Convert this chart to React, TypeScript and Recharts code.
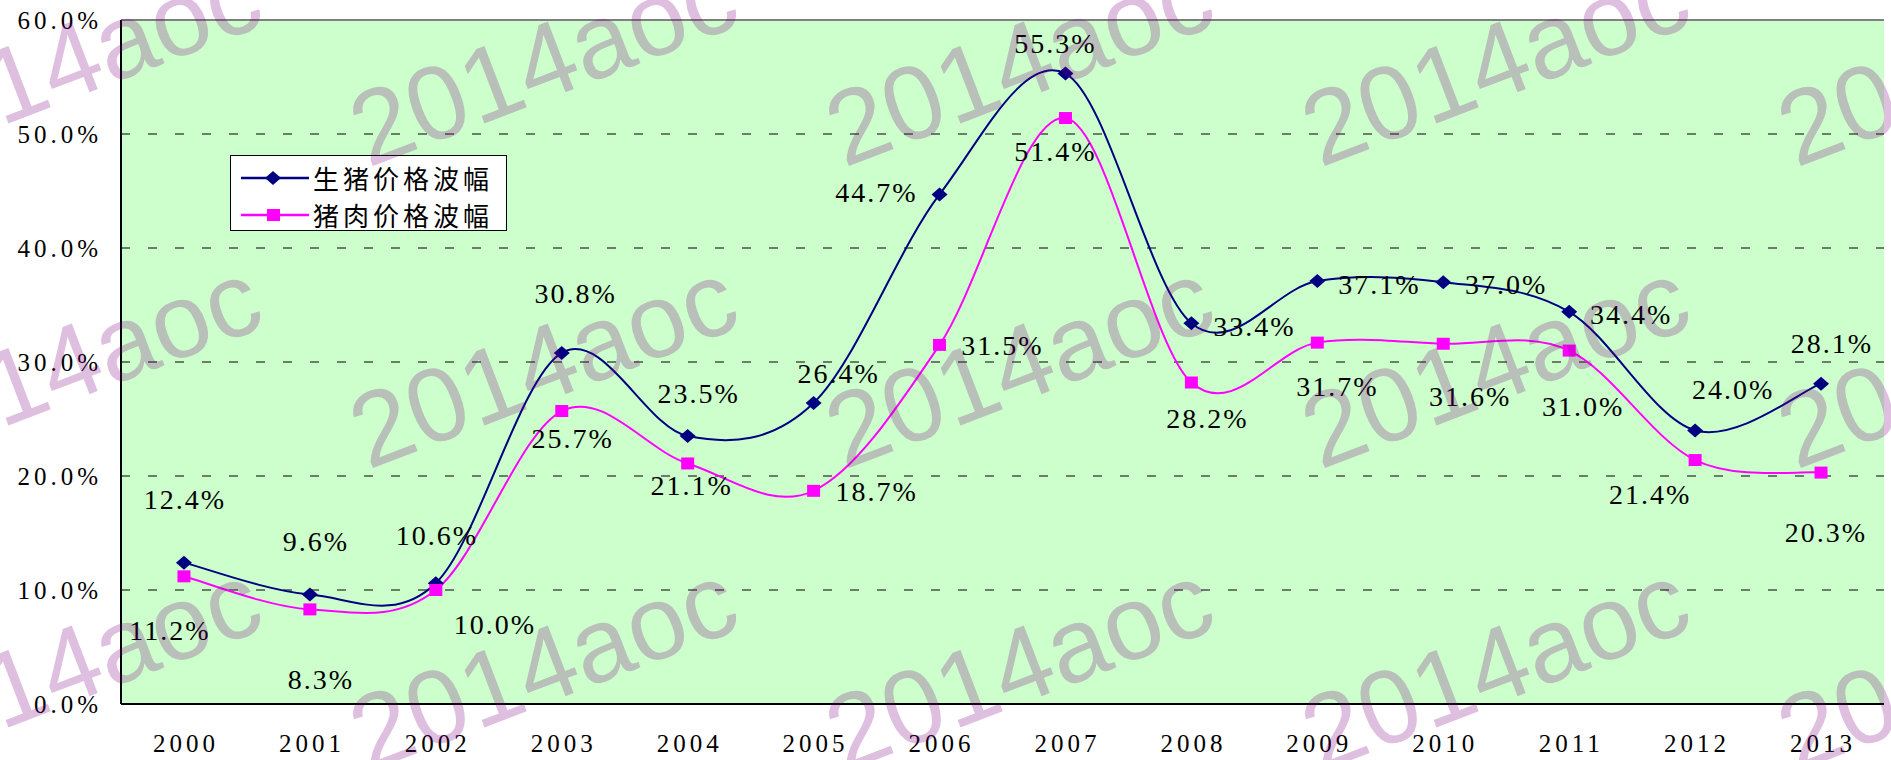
import React from 'react'
import { LineChart, Line, XAxis, YAxis, CartesianGrid, ReferenceLine, Legend } from 'recharts'

// years on the category axis
const years = ['2000', '2001', '2002', '2003', '2004', '2005', '2006', '2007', '2008', '2009', '2010', '2011', '2012', '2013']
// 生猪价格波幅 (%)
const hogSwing = [12.4, 9.6, 10.6, 30.8, 23.5, 26.4, 44.7, 55.3, 33.4, 37.1, 37.0, 34.4, 24.0, 28.1]
// 猪肉价格波幅 (%)
const porkSwing = [11.2, 8.3, 10.0, 25.7, 21.1, 18.7, 31.5, 51.4, 28.2, 31.7, 31.6, 31.0, 21.4, 20.3]
const yTicks = [0, 10, 20, 30, 40, 50, 60]
const seriesNames = ['生猪价格波幅', '猪肉价格波幅']

// hand placed data labels, offset in px from the marker (like the Excel original)
const hogLabelShift = [[0, -63], [5, -53], [0, -48], [13, -59], [10, -43], [24, -30], [-64, -2], [-11, -30], [62, 3], [61, 3], [62, 2], [61, 3], [37, -41], [10, -40]]
const porkLabelShift = [[-15, 54], [10, 70], [58, 34], [10, 27], [3, 22], [62, 1], [62, 1], [-11, 33], [15, 36], [19, 44], [26, 53], [13, 56], [-46, 34], [4, 60]]

const W = 1891
const H = 760
const NAVY = '#000080'
const MAGENTA = '#FF00FF'

// watermark grid (baseline start of each "2014aoc")
const markCols = [-108, 368, 844, 1320, 1796]
const markRows = [168, 470, 772]

const data = years.map((year, i) => ({ year, hog: hogSwing[i], pork: porkSwing[i] }))
const boundaryTicks = years.slice(1).map((_, i) => i + 1)

const SERIF = '"Liberation Serif", "Times New Roman", serif'

const axisFont: React.CSSProperties = { fontFamily: SERIF, fontSize: 25, letterSpacing: 4, fill: '#000' }
const xFont: React.CSSProperties = { fontFamily: SERIF, fontSize: 25, letterSpacing: 4, fill: '#000' }
const labelFont: React.CSSProperties = { fontFamily: SERIF, fontSize: 28, letterSpacing: 2, fill: '#000' }

// Excel style smoothed line: bezier with control points at 1/6 of the neighbour chord
const excelSmooth = (ctx: any) => {
  let pts: number[][] = []
  return {
    areaStart() {},
    areaEnd() {},
    lineStart() { pts = [] },
    point(x: number, y: number) { pts.push([+x, +y]) },
    lineEnd() {
      if (!pts.length) return
      ctx.moveTo(pts[0][0], pts[0][1])
      for (let i = 0; i < pts.length - 1; i++) {
        const a = pts[i - 1] ?? pts[i]
        const b = pts[i]
        const c = pts[i + 1]
        const d = pts[i + 2] ?? c
        ctx.bezierCurveTo(
          b[0] + (c[0] - a[0]) / 6, b[1] + (c[1] - a[1]) / 6,
          c[0] - (d[0] - b[0]) / 6, c[1] - (d[1] - b[1]) / 6,
          c[0], c[1]
        )
      }
    },
  }
}

const diamondDot = (p: any) => (
  <path
    key={`hd-${p.index}`}
    d={`M${p.cx},${p.cy - 7}L${p.cx + 8},${p.cy}L${p.cx},${p.cy + 7}L${p.cx - 8},${p.cy}Z`}
    fill={NAVY}
  />
)

const squareDot = (p: any) => (
  <rect key={`pd-${p.index}`} x={p.cx - 6.5} y={p.cy - 6} width={13} height={12} fill={MAGENTA} />
)

const makeLabel = (shift: number[][], prefix: string) => (p: any) => {
  const x = p.x ?? p.viewBox?.x
  const y = p.y ?? p.viewBox?.y
  const [dx, dy] = shift[p.index] ?? [0, 0]
  return (
    <text key={`${prefix}-${p.index}`} x={x + dx + 1} y={y + dy} textAnchor="middle" dominantBaseline="central" style={labelFont}>
      {Number(p.value).toFixed(1)}%
    </text>
  )
}

const XTick = (p: any) => (
  <text x={p.x + 2} y={p.y} textAnchor="middle" dominantBaseline="central" style={xFont}>
    {p.payload.value}
  </text>
)

const YTick = (p: any) => (
  <text x={p.x + 3} y={p.y} textAnchor="end" dominantBaseline="central" style={axisFont}>
    {Number(p.payload.value).toFixed(1)}%
  </text>
)

const legendItems = [
  { name: seriesNames[0], color: NAVY, shape: 'diamond' },
  { name: seriesNames[1], color: MAGENTA, shape: 'square' },
]

function LegendBox() {
  return (
    <div
      style={{
        width: 277, height: 76, boxSizing: 'border-box', border: '1.5px solid #000',
        background: '#fff', position: 'relative',
      }}
    >
      {legendItems.map((it, i) => (
        <div
          key={it.name}
          style={{ position: 'absolute', left: 10, top: 4 + i * 37, height: 36, display: 'flex', alignItems: 'center' }}
        >
          <svg width={68} height={36} style={{ display: 'block' }}>
            <line x1={0} x2={68} y1={18} y2={18} stroke={it.color} strokeWidth={2.5} />
            {it.shape === 'diamond'
              ? <path d="M32,11L40,18L32,25L24,18Z" fill={it.color} />
              : <rect x={26} y={12} width={13} height={12} fill={it.color} />}
          </svg>
          <span
            style={{
              marginLeft: 4, fontFamily: '"Noto Sans CJK SC", sans-serif', fontSize: 26,
              letterSpacing: 4, lineHeight: '36px', color: '#000', whiteSpace: 'nowrap',
            }}
          >
            {it.name}
          </span>
        </div>
      ))}
    </div>
  )
}

export default function App() {
  return (
    <div style={{ position: 'relative', width: W, height: H, background: '#fff' }}>
      <style>{'body{margin:0}'}</style>
      <LineChart width={W} height={H} data={data} margin={{ top: 20, right: 7, bottom: 0, left: 0 }}>
        <CartesianGrid vertical={false} stroke="#000" strokeDasharray="9 18" fill="#CCFFCC" fillOpacity={1} />
        <XAxis
          dataKey="year"
          scale="band"
          interval={0}
          height={56}
          tickSize={0}
          tickMargin={39}
          tickLine={false}
          axisLine={{ stroke: '#000', strokeWidth: 2 }}
          tick={XTick}
        />
        <XAxis
          xAxisId="frame"
          type="number"
          domain={[0, years.length]}
          ticks={boundaryTicks}
          mirror
          tick={false}
          axisLine={false}
          tickLine={{ stroke: '#000', strokeWidth: 1.5 }}
          tickSize={9}
        />
        <YAxis
          domain={[0, 60]}
          ticks={yTicks}
          interval={0}
          width={121}
          tickSize={0}
          tickMargin={22}
          tickLine={false}
          axisLine={{ stroke: '#000', strokeWidth: 2 }}
          tick={YTick}
        />
        <YAxis
          yAxisId="frame"
          domain={[0, 60]}
          ticks={yTicks}
          mirror
          tick={false}
          axisLine={false}
          tickLine={{ stroke: '#000', strokeWidth: 1.5 }}
          tickSize={10}
        />
        <ReferenceLine y={60} stroke="#808080" strokeWidth={2} />
        <ReferenceLine xAxisId="frame" x={years.length} stroke="#808080" strokeWidth={2} />
        <Legend
          layout="horizontal"
          verticalAlign="middle"
          align="center"
          wrapperStyle={{ left: 230, top: 155, width: 277, height: 76 }}
          content={() => <LegendBox />}
        />
        <Line
          dataKey="hog"
          name={seriesNames[0]}
          type={excelSmooth as any}
          stroke={NAVY}
          strokeWidth={2}
          dot={diamondDot}
          activeDot={false}
          label={makeLabel(hogLabelShift, 'hl')}
          isAnimationActive={false}
        />
        <Line
          dataKey="pork"
          name={seriesNames[1]}
          type={excelSmooth as any}
          stroke={MAGENTA}
          strokeWidth={2}
          dot={squareDot}
          activeDot={false}
          label={makeLabel(porkLabelShift, 'pl')}
          isAnimationActive={false}
        />
      </LineChart>
      <svg
        width={W}
        height={H}
        style={{ position: 'absolute', left: 0, top: 0, pointerEvents: 'none' }}
      >
        {markRows.map((y) =>
          markCols.map((x) => (
            <text
              key={`${x}-${y}`}
              x={x}
              y={y}
              transform={`rotate(-21 ${x} ${y})`}
              fontFamily='"Liberation Sans", Arial, sans-serif'
              fontSize={105}
              fill="rgba(128,0,128,0.25)"
            >
              2014aoc
            </text>
          ))
        )}
      </svg>
    </div>
  )
}
